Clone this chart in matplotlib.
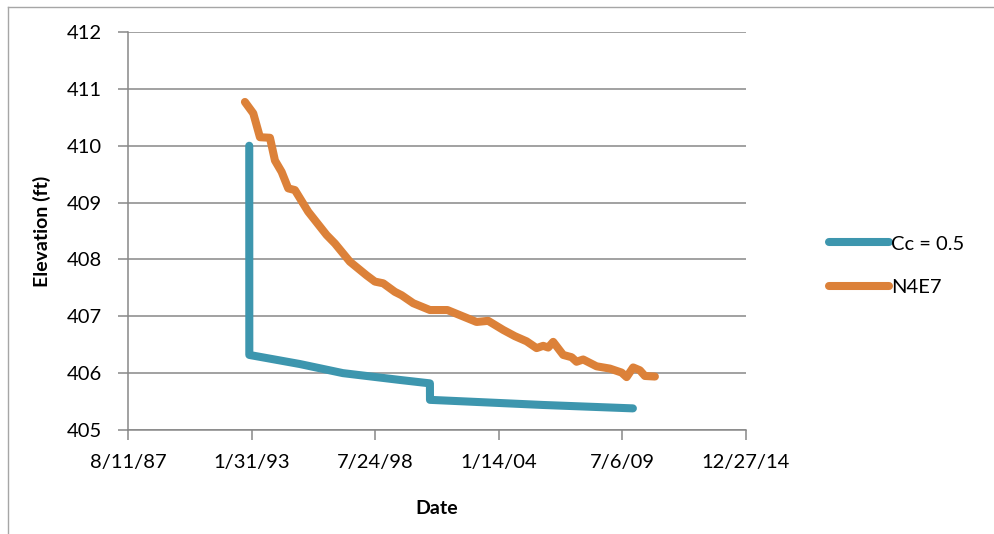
import matplotlib
matplotlib.use("Agg")
import matplotlib.pyplot as plt
import matplotlib.dates as mdates
from matplotlib.lines import Line2D
import pandas as pd

# Cc = 0.5 (computed settlement)
cc_dates = ["1992-12-25", "1992-12-26", "1995-03-24", "1997-02-18", "1999-08-29",
            "2000-12-27", "2000-12-28", "2005-12-29", "2009-12-25"]
cc_elev = [410.0, 406.32, 406.16, 406.0, 405.88, 405.82, 405.53, 405.44, 405.38]

# N4E7 (measured)
n4_dates = ["1992-10-16", "1993-02-28", "1993-06-16", "1993-11-25", "1994-02-14",
            "1994-06-02", "1994-09-17", "1995-01-03", "1995-08-06", "1996-05-30",
            "1996-10-12", "1997-06-11", "1998-03-08", "1998-07-21", "1998-12-02",
            "1999-06-09", "1999-09-26", "2000-04-01", "2000-12-27", "2001-10-06",
            "2002-04-26", "2003-01-21", "2003-07-28", "2004-03-27", "2004-10-02",
            "2005-04-09", "2005-09-18", "2006-01-03", "2006-03-25", "2006-06-14",
            "2006-11-23", "2007-04-08", "2007-06-27", "2007-10-12", "2008-05-16",
            "2008-12-17", "2009-06-25", "2009-09-14", "2009-12-29", "2010-04-17",
            "2010-07-07", "2010-12-16"]
n4_elev = [410.77, 410.57, 410.15, 410.14, 409.74,
           409.54, 409.25, 409.22, 408.84, 408.43,
           408.28, 407.96, 407.72, 407.61, 407.58,
           407.43, 407.37, 407.23, 407.11, 407.11,
           407.02, 406.90, 406.92, 406.76, 406.65,
           406.56, 406.44, 406.48, 406.45, 406.55,
           406.32, 406.28, 406.20, 406.24, 406.12,
           406.08, 406.01, 405.93, 406.10, 406.05,
           405.95, 405.94]

x_ticks = ["1987-08-11", "1993-01-31", "1998-07-24", "2004-01-14", "2009-07-06", "2014-12-27"]
y_ticks = [405, 406, 407, 408, 409, 410, 411, 412]

plt.rcParams['font.family'] = ['Lato', 'DejaVu Sans']

fig = plt.figure(figsize=(9.95, 5.34), dpi=100)
ax = fig.add_axes([0.1286, 0.1948, 0.621, 0.7452])

blue = "#3D96AE"
orange = "#DC8139"
ax.plot(pd.to_datetime(cc_dates), cc_elev, color=blue, lw=5.8, solid_capstyle="round",
        solid_joinstyle="round", label="Cc = 0.5")
ax.plot(pd.to_datetime(n4_dates), n4_elev, color=orange, lw=5.8, solid_capstyle="round",
        solid_joinstyle="round", label="N4E7")

xt = pd.to_datetime(x_ticks)
ax.set_xlim(xt[0], xt[-1])
ax.set_ylim(405, 412)
ax.set_xticks(xt)
ax.xaxis.set_major_formatter(mdates.DateFormatter("%-m/%-d/%y"))
ax.set_yticks(y_ticks)

ax.grid(axis="y", color="#888888", lw=1.1)
ax.set_axisbelow(True)
for s in ["top", "right"]:
    ax.spines[s].set_visible(False)
for s in ["left", "bottom"]:
    ax.spines[s].set_color("#888888")
    ax.spines[s].set_linewidth(1.1)
ax.tick_params(axis="both", direction="out", length=7, width=1.1, color="#888888",
               labelsize=14.5)
ax.tick_params(axis="x", pad=10)
ax.tick_params(axis="y", pad=12)

ax.set_xlabel("Date", fontsize=14, fontweight="bold", labelpad=21)
ax.set_ylabel("Elevation (ft)", fontsize=14, fontweight="bold", labelpad=11)

ax.legend(loc="center left", bbox_to_anchor=(1.105, 0.413), frameon=False, fontsize=14.5,
          handlelength=3.0, handletextpad=0.1, labelspacing=1.3)

# chart border (cropped: only left and top visible)
fig.add_artist(Line2D([8 / 995, 8 / 995], [0, 1 - 7 / 534], transform=fig.transFigure,
                      color="#A6A6A6", lw=1))
fig.add_artist(Line2D([8 / 995, 1], [1 - 7 / 534, 1 - 7 / 534], transform=fig.transFigure,
                      color="#A6A6A6", lw=1))

fig.savefig("out.png", dpi=100)
